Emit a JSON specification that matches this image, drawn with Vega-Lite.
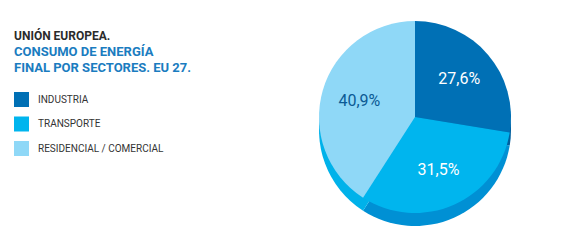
{
  "$schema": "https://vega.github.io/schema/vega-lite/v6.json",
  "width": 320,
  "height": 234,
  "autosize": {"type": "none"},
  "padding": {"left": 255, "top": 0, "right": 0, "bottom": 0},
  "background": "white",
  "config": {
    "view": {"stroke": null},
    "font": "Roboto",
    "locale": {"number": {"decimal": ",", "thousands": ".", "grouping": [3], "currency": ["", " €"]}}
  },
  "title": {
    "text": "UNIÓN EUROPEA.",
    "subtitle": ["CONSUMO DE ENERGÍA", "FINAL POR SECTORES. EU 27."],
    "anchor": "start",
    "frame": "group",
    "orient": "top",
    "offset": -76,
    "dx": -241,
    "font": "Roboto",
    "fontSize": 12,
    "fontWeight": "bold",
    "color": "#2b2b2b",
    "subtitleFont": "Roboto",
    "subtitleFontSize": 13,
    "subtitleFontWeight": "bold",
    "subtitleColor": "#1a7cc0",
    "subtitleLineHeight": 16.5,
    "subtitlePadding": 3
  },
  "data": {
    "values": [
      {"sector": "INDUSTRIA", "share": 0.276, "ord": 1},
      {"sector": "TRANSPORTE", "share": 0.315, "ord": 2},
      {"sector": "RESIDENCIAL / COMERCIAL", "share": 0.409, "ord": 3}
    ]
  },
  "encoding": {
    "theta": {"field": "share", "type": "quantitative", "stack": true},
    "order": {"field": "ord", "type": "quantitative"}
  },
  "layer": [
    {
      "mark": {"type": "arc", "outerRadius": 96, "yOffset": 13},
      "encoding": {
        "color": {
          "field": "sector",
          "type": "nominal",
          "scale": {"domain": ["INDUSTRIA", "TRANSPORTE", "RESIDENCIAL / COMERCIAL"], "range": ["#005f9e", "#0090d4", "#00b2ea"]},
          "legend": null
        }
      }
    },
    {
      "mark": {"type": "arc", "outerRadius": 96},
      "encoding": {
        "color": {
          "field": "sector",
          "type": "nominal",
          "scale": {"domain": ["INDUSTRIA", "TRANSPORTE", "RESIDENCIAL / COMERCIAL"], "range": ["#0070b5", "#00b5ee", "#8fd8f7"]},
          "legend": {
            "title": null,
            "orient": "none",
            "legendX": -241,
            "legendY": 92,
            "symbolType": "square",
            "symbolSize": 225,
            "symbolStrokeWidth": 0,
            "symbolOpacity": 1,
            "labelFont": "Roboto",
            "labelFontSize": 10,
            "labelColor": "#333333",
            "labelOffset": 9,
            "rowPadding": 9.5,
            "padding": 0
          }
        }
      }
    },
    {
      "mark": {"type": "text", "radius": 58, "font": "Roboto", "fontSize": 16},
      "encoding": {
        "text": {"field": "share", "type": "quantitative", "format": ".1%"},
        "color": {
          "condition": {"test": "datum.sector === 'RESIDENCIAL / COMERCIAL'", "value": "#0b5a94"},
          "value": "white"
        }
      }
    }
  ],
  "resolve": {"scale": {"color": "independent"}}
}
